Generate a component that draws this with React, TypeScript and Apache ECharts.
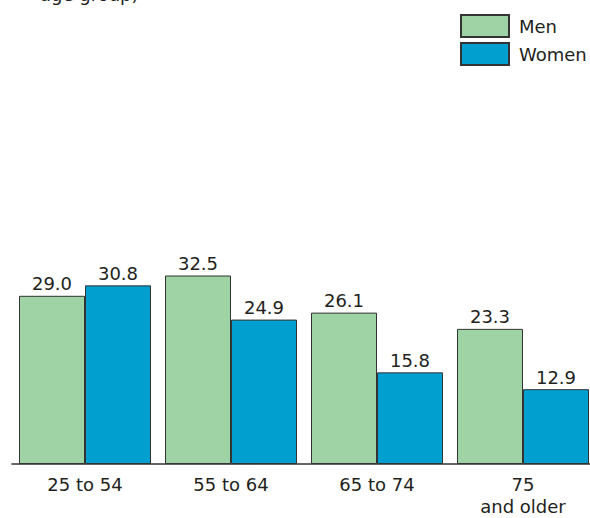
import React, { useEffect, useRef } from "react";
import * as echarts from "echarts";

const categories = ["25 to 54", "55 to 64", "65 to 74", "75\nand older"];
const menValues = [29.0, 32.5, 26.1, 23.3];
const womenValues = [30.8, 24.9, 15.8, 12.9];
const seriesNames = ["Men", "Women"];

const FONT = "'DejaVu Sans', sans-serif";
const TEXT = "#231f20";
const EDGE = "#333333";
const MEN_COLOR = "#9fd2a5";
const WOMEN_COLOR = "#009fcf";

export default function App() {
  const ref = useRef<HTMLDivElement>(null);

  useEffect(() => {
    if (!ref.current) return;
    const chart = echarts.init(ref.current, null, { renderer: "svg" });

    const label = {
      show: true,
      position: "top" as const,
      distance: 3,
      color: TEXT,
      fontFamily: FONT,
      fontSize: 18,
      formatter: (p: any) => Number(p.value).toFixed(1),
    };

    chart.setOption({
      animation: false,
      backgroundColor: "#ffffff",
      textStyle: { fontFamily: FONT },
      legend: {
        data: seriesNames,
        orient: "vertical",
        left: 455,
        top: 9,
        padding: 5,
        itemWidth: 48,
        itemHeight: 22,
        itemGap: 4,
        icon: "rect",
        selectedMode: false,
        textStyle: { color: TEXT, fontFamily: FONT, fontSize: 18, padding: [0, 0, 0, 5] },
      },
      graphic: [
        {
          type: "text",
          left: 40,
          top: -15,
          style: {
            text: "age group)",
            fill: TEXT,
            font: `18px ${FONT}`,
          },
        },
      ],
      grid: { left: 12, right: -6, top: 174, bottom: 54, outerBoundsMode: "none" },
      xAxis: {
        type: "category",
        data: categories,
        axisLine: { show: true, lineStyle: { color: EDGE, width: 1.5 } },
        axisTick: { show: false },
        axisLabel: {
          color: TEXT,
          fontFamily: FONT,
          fontSize: 18,
          margin: 9,
          lineHeight: 22,
          interval: 0,
        },
      },
      yAxis: {
        type: "value",
        min: 0,
        max: 50,
        show: false,
        splitLine: { show: false },
      },
      series: [
        {
          name: seriesNames[0],
          type: "bar",
          data: menValues,
          barWidth: 66,
          barGap: "0%",
          itemStyle: { color: MEN_COLOR, borderColor: EDGE, borderWidth: 1 },
          label,
        },
        {
          name: seriesNames[1],
          type: "bar",
          data: womenValues,
          barWidth: 66,
          barGap: "0%",
          itemStyle: { color: WOMEN_COLOR, borderColor: EDGE, borderWidth: 1 },
          label,
        },
      ],
    });

    return () => chart.dispose();
  }, []);

  return (
    <div
      ref={ref}
      style={{ position: "absolute", left: 0, top: 0, width: 590, height: 518 }}
    />
  );
}
